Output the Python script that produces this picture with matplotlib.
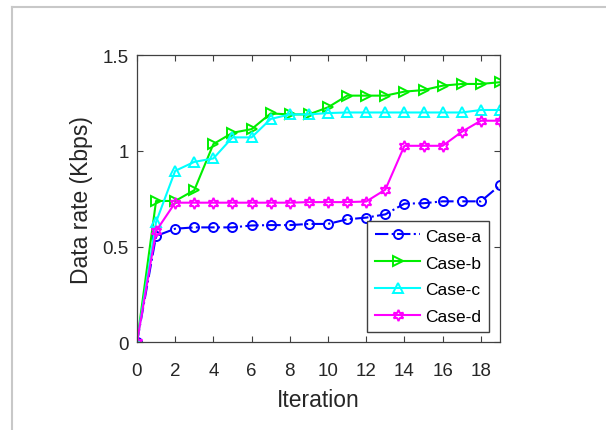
import matplotlib
matplotlib.use("Agg")
import matplotlib.pyplot as plt
from matplotlib.lines import Line2D

plt.rcParams['font.family'] = ['Liberation Sans', 'DejaVu Sans']

iterations = list(range(20))
case_a = [0, 0.555, 0.593, 0.600, 0.600, 0.600, 0.610, 0.612, 0.612, 0.618,
          0.618, 0.642, 0.651, 0.668, 0.724, 0.726, 0.736, 0.736, 0.736, 0.820]
case_b = [0, 0.738, 0.738, 0.794, 1.035, 1.094, 1.113, 1.195, 1.190, 1.190,
          1.227, 1.288, 1.288, 1.288, 1.309, 1.317, 1.340, 1.349, 1.349, 1.358]
case_c = [0, 0.628, 0.895, 0.942, 0.960, 1.070, 1.070, 1.166, 1.190, 1.190,
          1.197, 1.200, 1.200, 1.200, 1.200, 1.200, 1.200, 1.200, 1.213, 1.213]
case_d = [0, 0.581, 0.729, 0.729, 0.729, 0.729, 0.729, 0.729, 0.729, 0.732,
          0.732, 0.732, 0.735, 0.797, 1.026, 1.026, 1.026, 1.099, 1.157, 1.157]
labels = ['Case-a', 'Case-b', 'Case-c', 'Case-d']
xticks = [0, 2, 4, 6, 8, 10, 12, 14, 16, 18]
yticks = [0, 0.5, 1, 1.5]
yticklabels = ['0', '0.5', '1', '1.5']

fig = plt.figure(figsize=(6.06, 4.31), dpi=100)
ax = fig.add_axes([0.226, 0.2035, 0.599, 0.6665])

kw = dict(lw=1.5, mew=1.4, mfc='none')
ax.plot(iterations, case_a, '-.', color='#0000FF', marker='o', ms=6.5, label=labels[0], **kw)
ax.plot(iterations, case_b, '-', color='#00EE00', marker='>', ms=7.5, label=labels[1], **kw)
ax.plot(iterations, case_c, '-', color='#00FFFF', marker='^', ms=7.5, label=labels[2], **kw)
ax.plot(iterations, case_d, '-', color='#FF00FF', marker=(6, 1, 0), ms=8, label=labels[3], **kw)

ax.set_xlim(0, 19)
ax.set_ylim(0, 1.5)
ax.set_xticks(xticks)
ax.set_yticks(yticks)
ax.set_yticklabels(yticklabels)
ax.tick_params(direction='in', top=True, right=True, length=4, width=0.8,
               labelsize=13.5, colors='#404040', labelcolor='#262626')
ax.tick_params(axis='y', pad=6)
ax.tick_params(axis='x', pad=14)
for s in ax.spines.values():
    s.set_color('#404040')
    s.set_linewidth(0.9)
ax.set_xlabel('Iteration', fontsize=16.5, color='#262626', labelpad=7)
ax.set_ylabel('Data rate (Kbps)', fontsize=16.5, color='#262626', labelpad=7)

leg = ax.legend(loc='lower right', bbox_to_anchor=(0.971, 0.035), borderaxespad=0,
                fontsize=12.5, handlelength=2.6, fancybox=False, framealpha=1,
                edgecolor='#404040', borderpad=0.45, labelspacing=0.68, handletextpad=0.3)
leg.get_frame().set_linewidth(1.0)

# light gray outer border (top and left)
fig.add_artist(Line2D([12/606, 1], [1 - 8/431, 1 - 8/431], transform=fig.transFigure,
                      color='#C8C8C8', lw=1.5))
fig.add_artist(Line2D([12/606, 12/606], [0, 1 - 8/431], transform=fig.transFigure,
                      color='#C8C8C8', lw=1.5))

fig.savefig('out.png', dpi=100)
